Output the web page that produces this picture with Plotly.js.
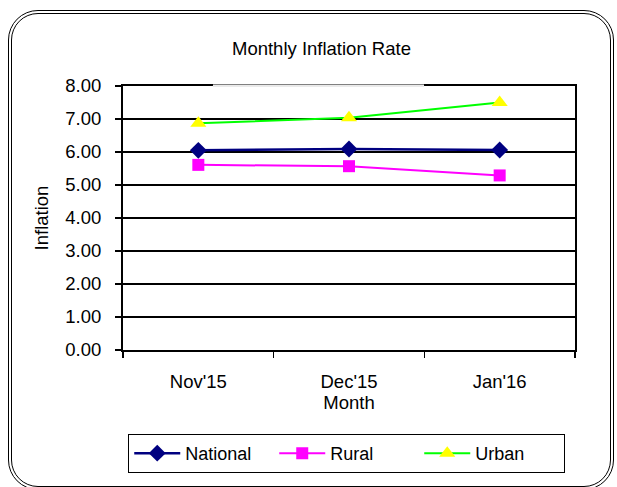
<!DOCTYPE html>
<html>
<head>
<meta charset="utf-8">
<script src="https://cdn.plot.ly/plotly-3.0.1.min.js"></script>
<style>
html,body{margin:0;padding:0;background:#fff;}
#wrap{position:relative;width:617px;height:487px;overflow:hidden;}
#chart{position:absolute;left:0;top:0;width:617px;height:487px;}
#frame{position:absolute;left:8px;top:10px;width:606px;height:480px;border:4px double #000;border-radius:30px;pointer-events:none;box-sizing:border-box;}
</style>
</head>
<body>
<div id="wrap">
<div id="chart"></div>
<div id="frame"></div>
</div>
<script>
const months = ["Nov'15", "Dec'15", "Jan'16"];
const national = [6.05, 6.09, 6.06];
const rural = [5.61, 5.57, 5.29];
const urban = [6.87, 7.04, 7.50];

const fam = "Liberation Sans, Arial, sans-serif";
const font = {family: fam, size: 18.5, color: "#000"};

const traces = [
  {x: months, y: national, name: "National", type: "scatter", mode: "lines+markers",
   line: {color: "#000080", width: 2.5}, marker: {symbol: "diamond", size: 13, color: "#000080"}},
  {x: months, y: rural, name: "Rural", type: "scatter", mode: "lines+markers",
   line: {color: "#FF00FF", width: 2}, marker: {symbol: "square", size: 12, color: "#FF00FF"}},
  {x: months, y: urban, name: "Urban", type: "scatter", mode: "lines+markers",
   line: {color: "#00FF00", width: 2}, marker: {symbol: "triangle-up", size: 14, color: "#FFFF00"}}
];

const layout = {
  width: 617, height: 487,
  margin: {l: 123, r: 42, t: 86, b: 137},
  paper_bgcolor: "#fff", plot_bgcolor: "#fff",
  font: font,
  title: {text: "Monthly Inflation Rate", font: {family: fam, size: 18.5, color: "#000"},
          x: 0.521, xanchor: "center", y: 0.901, yanchor: "middle", yref: "container"},
  xaxis: {type: "category", range: [-0.5, 2.5], showline: true, linecolor: "#000", linewidth: 2,
          mirror: true, showgrid: false, ticks: "outside", tickson: "boundaries", ticklen: 6,
          tickcolor: "#000", tickwidth: 1.5, tickfont: font, ticklabelstandoff: 14,
          title: {text: "Month", font: font, standoff: 0}, zeroline: false},
  yaxis: {range: [0, 8], dtick: 1, tickformat: ".2f", showline: true, linecolor: "#000", linewidth: 2,
          mirror: true, showgrid: true, gridcolor: "#000", gridwidth: 2, ticks: "outside",
          ticklen: 6, tickcolor: "#000", tickwidth: 1.5, tickfont: font, zeroline: false,
          ticklabelstandoff: 10,
          title: {text: "Inflation", font: font, standoff: 12}},
  shapes: [
    {type: "line", xref: "paper", yref: "paper", x0: 0.199, x1: 0.666, y0: 1, y1: 1,
     line: {color: "#fff", width: 3}, layer: "above"},
    {type: "line", xref: "paper", yref: "paper", x0: 0.199, x1: 0.666, y0: 1, y1: 1,
     line: {color: "#bbb", width: 0.6}, layer: "above"}
  ],
  showlegend: true,
  legend: {orientation: "h", x: 0.495, xanchor: "center", y: -0.318, yanchor: "top",
           bordercolor: "#000", borderwidth: 1, bgcolor: "#fff", font: {family: fam, size: 18, color: "#000"},
           entrywidth: 84, itemwidth: 46}
};

Plotly.newPlot("chart", traces, layout, {displayModeBar: false, staticPlot: true});
</script>
</body>
</html>
